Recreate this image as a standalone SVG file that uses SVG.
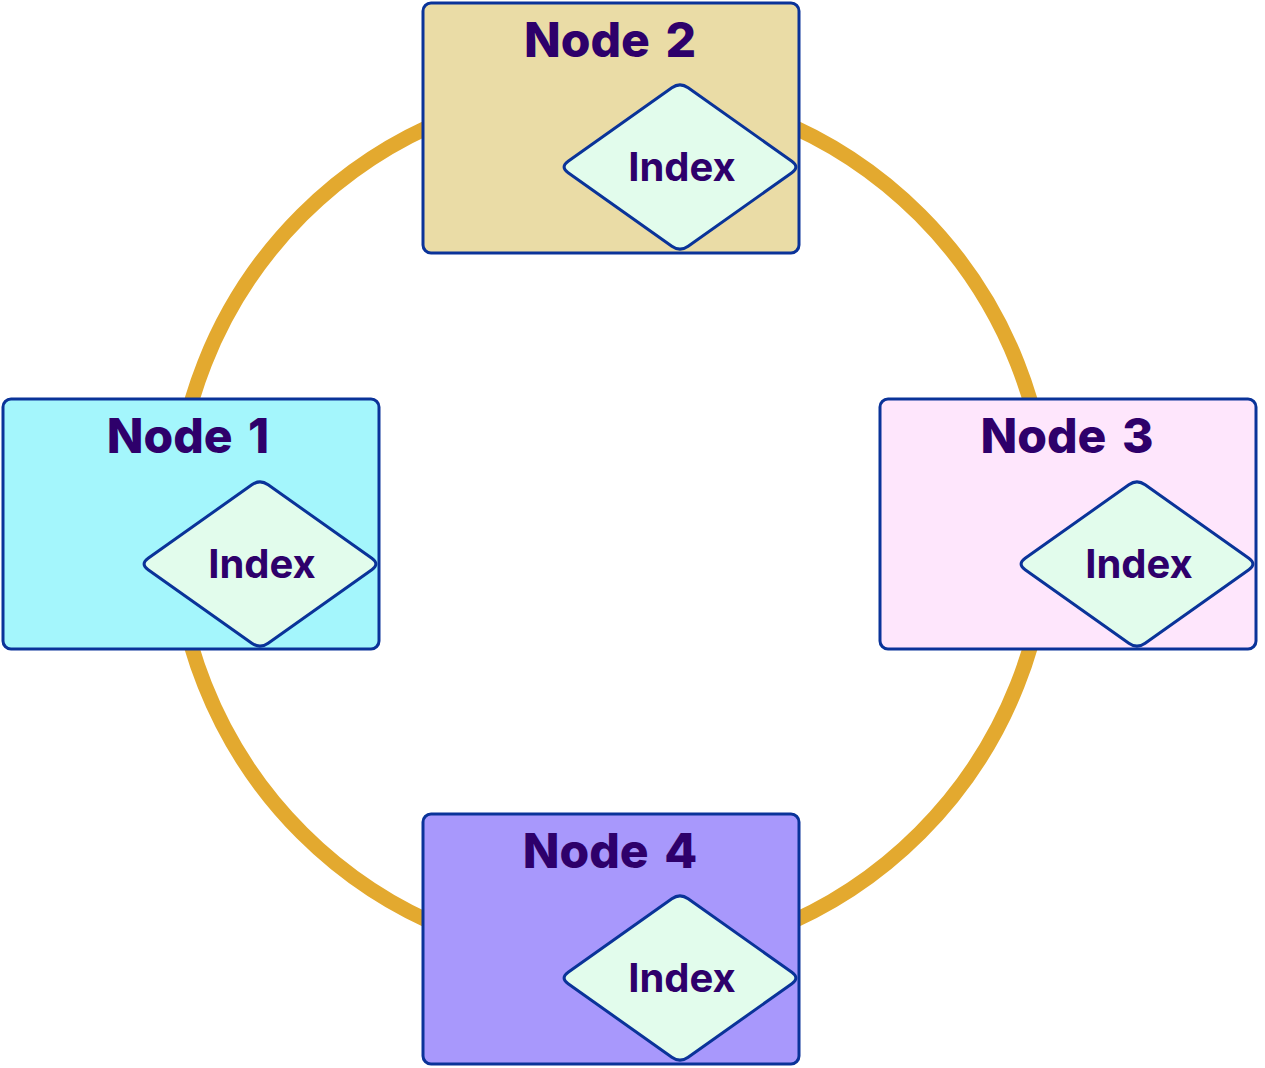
<svg xmlns="http://www.w3.org/2000/svg" width="1265" height="1068" viewBox="0 0 1265 1068">
  <style>
    .box { stroke: #0A3399; stroke-width: 3; }
    .dia { fill: #E2FCEC; stroke: #0A3399; stroke-width: 3; }
    .title { font-family: Inter, "Noto Sans", "Liberation Sans", sans-serif; font-weight: 800; font-size: 48px; fill: #2E006B; text-anchor: middle; word-spacing: 5px; }
    .idx { font-family: Inter, "Noto Sans", "Liberation Sans", sans-serif; font-weight: 700; font-size: 40px; fill: #2E006B; text-anchor: middle; }
    .ring { fill: none; stroke: #E3A92F; stroke-width: 15; }
  </style>
  <defs>
    <path id="diamond" d="M -111.85,-5.8 L -8.15,-79.2 Q 0,-85 8.15,-79.2 L 111.85,-5.8 Q 120,0 111.85,5.8 L 8.15,79.2 Q 0,85 -8.15,79.2 L -111.85,5.8 Q -120,0 -111.85,-5.8 Z"/>
  </defs>
  <rect width="1265" height="1068" fill="#FFFFFF"/>
  <g id="connectors">
    <circle class="ring" cx="611" cy="524" r="437"/>
  </g>
  <g id="node1">
    <rect class="box" x="3" y="399" width="376" height="250" rx="8" fill="#A4F6FC"/>
    <text class="title" x="188" y="453">Node 1</text>
    <use href="#diamond" class="dia" x="260" y="564"/>
    <text class="idx" x="262" y="578">Index</text>
  </g>
  <g id="node2">
    <rect class="box" x="423" y="3" width="376" height="250" rx="8" fill="#EADCA6"/>
    <text class="title" x="610" y="57">Node 2</text>
    <use href="#diamond" class="dia" x="680" y="167"/>
    <text class="idx" x="682" y="181">Index</text>
  </g>
  <g id="node3">
    <rect class="box" x="880" y="399" width="376" height="250" rx="8" fill="#FEE6FC"/>
    <text class="title" x="1067" y="453">Node 3</text>
    <use href="#diamond" class="dia" x="1137" y="564"/>
    <text class="idx" x="1139" y="578">Index</text>
  </g>
  <g id="node4">
    <rect class="box" x="423" y="814" width="376" height="250" rx="8" fill="#A898FC"/>
    <text class="title" x="610" y="868">Node 4</text>
    <use href="#diamond" class="dia" x="680" y="978"/>
    <text class="idx" x="682" y="992">Index</text>
  </g>
</svg>
